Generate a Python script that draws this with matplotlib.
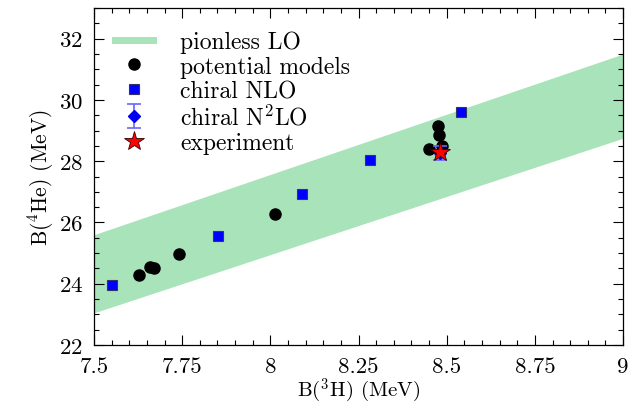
import matplotlib
matplotlib.use("Agg")
import matplotlib.pyplot as plt
from matplotlib.ticker import MultipleLocator, FixedLocator, FixedFormatter

plt.rcParams['font.family'] = 'serif'
plt.rcParams['font.serif'] = ['cmr10']
plt.rcParams['mathtext.fontset'] = 'cm'
plt.rcParams['axes.formatter.use_mathtext'] = True

# pionless LO band, edges at the ends of the x range
band_x = [7.5, 9.0]
band_lo = [23.05, 28.75]
band_hi = [25.6, 31.5]

# potential models
pot_h3 = [7.628, 7.659, 7.670, 7.741, 8.014, 8.450, 8.476, 8.478, 8.486]
pot_he4 = [24.30, 24.55, 24.51, 24.98, 26.27, 28.39, 29.16, 28.85, 28.51]

# chiral NLO
nlo_h3 = [7.551, 7.851, 8.091, 8.282, 8.541]
nlo_he4 = [23.97, 25.56, 26.93, 28.04, 29.60]

# chiral N2LO with error
n2lo_h3 = [8.482]
n2lo_he4 = [28.27]
n2lo_err = [0.24]

# experiment
exp_h3 = [8.482]
exp_he4 = [28.296]

xticks = [7.5, 7.75, 8.0, 8.25, 8.5, 8.75, 9.0]
xticklabels = ['7.5', '7.75', '8', '8.25', '8.5', '8.75', '9']
yticks = [22, 24, 26, 28, 30, 32]

fig = plt.figure(figsize=(6.41, 4.06), dpi=100)
ax = fig.add_axes([0.1466, 0.1478, 0.8254, 0.830])

ax.fill_between(band_x, band_lo, band_hi, color='#a9e3b9', lw=0)
h_band, = ax.plot([], [], color='#a9e3b9', lw=5)
h_pot, = ax.plot(pot_h3, pot_he4, 'o', color='black', ms=8, zorder=3)
h_nlo, = ax.plot(nlo_h3, nlo_he4, 's', color='#0000ff', mec='#333366', mew=0.8, ms=7,
                 zorder=3)
h_n2lo = ax.errorbar(n2lo_h3, n2lo_he4, yerr=n2lo_err, fmt='D', color='#0000ee', ms=6.5,
                     ecolor='#6666ff', elinewidth=1.2, capsize=5, capthick=1.2, zorder=4)
h_exp, = ax.plot(exp_h3, exp_he4, '*', color='red', mec='#330000', mew=0.6, ms=15,
                 zorder=5)

ax.set_xlim(7.5, 9.0)
ax.set_ylim(22, 33)
ax.xaxis.set_major_locator(FixedLocator(xticks))
ax.xaxis.set_major_formatter(FixedFormatter(xticklabels))
ax.xaxis.set_minor_locator(MultipleLocator(0.05))
ax.yaxis.set_major_locator(FixedLocator(yticks))
ax.yaxis.set_minor_locator(MultipleLocator(0.5))
ax.tick_params(which='both', direction='in', top=True, right=True, labelsize=16.5, width=0.8)
ax.tick_params(which='major', length=7)
ax.tick_params(axis='x', which='major', pad=8)
ax.tick_params(axis='y', which='major', pad=8)
ax.tick_params(which='minor', length=3.5)
for s in ax.spines.values():
    s.set_linewidth(0.9)

ax.set_xlabel(r'B($^3$H) (MeV)', fontsize=15, labelpad=0)
ax.set_ylabel(r'B($^4$He) (MeV)', fontsize=15.5, labelpad=2)

ax.legend([h_band, h_pot, h_nlo, h_n2lo, h_exp],
          ['pionless LO', 'potential models', 'chiral NLO', r'chiral N$^2$LO', 'experiment'],
          loc='upper left', bbox_to_anchor=(0.04, 0.933), frameon=False, fontsize=17,
          handlelength=1.6, handletextpad=1.15, labelspacing=0.1, borderpad=0,
          borderaxespad=0, numpoints=1)

fig.savefig('out.png', dpi=100)
